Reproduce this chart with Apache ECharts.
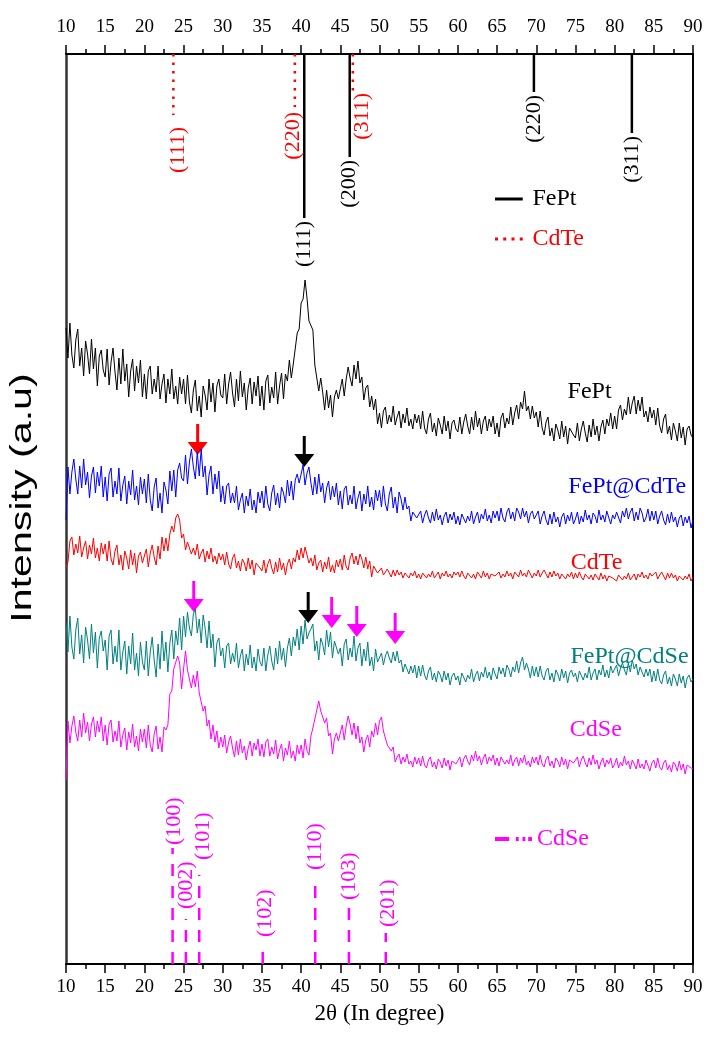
<!DOCTYPE html>
<html>
<head>
<meta charset="UTF-8">
<title>XRD patterns</title>
<script src="https://cdn.jsdelivr.net/npm/echarts@6/dist/echarts.min.js"></script>
<style>
  body { margin: 0; background: #fff; }
  #chart { width: 709px; height: 1041px; }
</style>
</head>
<body>
<div id="chart"></div>
<script>
// 2theta grid of the scans (degrees), 10..90 every 0.25
const start = 10, step = 0.25, count = 321;
const angles = [];
for (let i = 0; i < count; i++) angles.push(start + i * step);

// intensities (a.u., stacked offsets as in the figure), one row = 5 degrees
const fept = [
  636,606,641,609,596,624,635,598,616,588,623,610,590,625,595,616,578,608,614,594,
  587,615,579,602,616,592,574,606,580,615,583,600,567,593,605,573,598,581,604,567,
  590,565,593,598,570,585,572,598,565,580,590,561,585,570,595,565,578,560,587,570,
  585,560,589,562,551,574,584,553,568,547,578,569,554,585,562,581,552,578,585,569,
  566,590,560,580,592,571,557,585,563,593,567,581,554,576,586,560,582,568,588,558,
  578,554,583,589,561,577,566,592,560,578,591,565,590,583,604,586,600,598,631,635,
  661,665,684,666,643,644,634,599,597,573,586,572,554,574,556,569,547,567,574,565,
  565,585,568,585,597,586,578,599,585,603,581,587,564,576,579,557,568,554,565,540,
  551,536,553,557,540,549,542,558,539,547,553,536,550,541,556,538,545,535,550,541,
  549,535,553,536,530,545,551,532,541,528,546,539,530,548,533,543,525,541,544,535,
  532,547,530,542,550,538,530,547,534,553,537,546,530,543,548,533,545,537,548,530,
  541,527,546,551,536,546,540,557,539,551,559,545,562,555,573,553,558,545,558,546,
  552,537,553,536,529,542,547,528,536,523,540,534,525,543,527,538,520,536,538,529,
  526,541,523,535,543,531,522,539,527,545,529,538,523,537,544,530,545,538,551,535,
  548,535,554,559,544,555,549,567,550,561,568,550,564,553,567,547,553,542,557,546,
  554,539,556,538,531,545,550,530,538,524,541,533,523,541,526,537,519,535,538,529,
  526
];
const feptCdTe = [
  444,497,470,492,505,485,470,498,476,505,479,492,466,488,497,471,492,478,498,467,
  487,463,490,496,467,483,470,496,463,479,488,460,483,469,494,464,478,459,487,470,
  485,461,490,464,453,477,486,456,471,451,482,474,460,493,473,494,467,494,501,486,
  483,509,480,502,515,497,485,512,488,515,487,498,469,489,498,470,490,475,493,462,
  478,460,478,481,461,471,461,478,454,464,471,451,468,458,475,454,464,451,472,461,
  473,456,478,460,453,471,479,459,471,456,477,471,461,484,468,483,464,484,490,481,
  480,499,479,491,497,481,469,487,470,490,472,481,461,476,483,464,478,467,481,459,
  473,455,475,478,459,469,460,478,455,466,473,453,470,460,478,457,467,454,474,463,
  474,457,478,460,453,470,477,456,467,451,472,465,454,467,455,458,443,452,454,446,
  444,453,441,449,454,446,441,452,443,455,444,449,439,448,452,441,450,444,452,440,
  448,439,450,452,441,448,443,453,440,447,452,441,450,445,455,443,449,441,453,446,
  453,443,456,446,442,452,456,445,452,443,456,452,445,456,447,453,441,450,453,445,
  444,453,440,448,453,444,439,450,440,452,442,447,437,447,451,440,449,443,452,440,
  445,452,440,448,442,454,444,449,440,451,448,441,454,444,449,442,453,451,440,449,
  445,452,450,441,453,447,456,445,452,456,443,452,444,456,451,442,446,455,443,453,
  444,453,440,448,453,444,439,450,441,452,442,447,437,446,449,438,447,441,448,436,
  444
];
const cdte = [
  396,402,423,427,409,420,411,428,407,416,423,405,419,410,426,406,416,403,421,410,
  420,403,423,405,399,413,419,399,409,394,413,406,395,414,399,411,391,408,412,401,
  399,415,397,411,419,407,399,418,405,427,413,426,413,430,438,432,446,450,444,426,
  430,414,422,423,410,416,409,420,405,411,415,402,413,405,416,402,408,400,411,404,
  410,399,412,400,395,406,410,396,403,393,405,401,393,406,395,404,389,401,403,396,
  393,404,391,400,405,396,390,402,392,406,394,401,389,400,405,395,406,402,414,404,
  416,406,417,416,401,406,398,409,394,401,404,392,402,395,407,392,399,391,404,397,
  405,394,409,397,394,406,411,400,408,399,410,405,396,407,395,403,387,398,399,391,
  390,396,389,392,395,391,387,394,388,394,389,392,386,391,393,386,391,388,393,386,
  390,385,391,393,386,390,387,393,386,389,392,385,391,388,393,387,390,386,392,389,
  392,387,393,388,385,391,393,386,390,385,392,389,386,393,387,391,385,390,392,388,
  389,392,386,390,387,393,388,391,385,392,390,387,394,388,391,387,394,392,386,391,
  388,394,387,391,394,390,386,392,387,393,388,391,385,390,391,385,390,387,392,385,
  391,386,392,387,384,390,392,385,389,384,390,387,384,391,385,389,383,388,390,386,
  388,383,389,391,384,388,385,391,384,387,390,384,390,387,392,386,389,385,391,388,
  386,392,385,389,392,388,384,391,386,391,386,389,383,388,390,384,388,385,390,383,
  387
];
const feptCdSe = [
  341,312,348,317,305,334,346,310,329,301,337,324,305,340,311,332,296,326,333,313,
  324,294,328,334,300,318,302,334,294,312,323,290,318,300,331,294,311,288,322,302,
  294,323,288,312,327,304,287,320,295,333,303,322,292,321,334,305,333,319,346,314,
  348,327,352,336,328,350,355,331,345,321,349,336,316,343,316,330,297,321,326,308,
  316,296,318,321,300,311,302,321,296,308,315,293,310,299,319,296,307,293,315,302,
  298,316,293,309,318,303,294,316,300,323,304,316,297,316,326,308,327,318,335,314,
  338,320,344,325,331,335,340,313,323,304,326,320,309,334,317,332,306,323,324,310,
  316,298,320,325,304,316,307,328,303,316,321,298,315,303,322,298,307,293,315,302,
  301,311,299,308,313,306,301,312,303,313,301,304,292,300,302,290,298,291,299,286,
  298,288,299,289,284,293,297,284,291,282,293,289,282,293,284,291,279,288,291,284,
  288,279,291,293,282,289,285,295,282,289,293,283,292,287,297,286,292,284,296,290,
  285,297,290,296,287,299,295,287,297,292,303,291,301,307,294,301,295,286,298,288,
  297,287,298,288,284,293,296,284,291,282,294,290,283,295,286,293,281,291,294,287,
  291,282,293,295,284,291,286,297,284,291,295,284,294,289,299,287,294,286,298,291,
  290,299,288,296,301,294,289,301,292,304,295,300,289,297,299,287,295,288,295,282,
  293,283,295,284,280,289,293,280,287,278,290,285,278,290,281,288,276,286,289,282,
  285
];
const cdse = [
  184,243,221,238,248,232,223,244,227,251,231,242,223,240,247,227,243,232,247,223,
  239,219,240,244,222,233,223,243,217,229,236,214,232,221,240,217,228,213,235,222,
  235,216,239,219,212,230,238,215,227,212,237,234,239,270,273,295,294,308,301,275,
  295,313,294,295,276,289,277,293,271,272,253,258,238,244,225,239,222,233,216,227,
  217,229,211,222,228,216,207,223,209,225,211,218,204,216,223,208,221,214,225,208,
  220,207,222,225,208,217,210,224,205,214,220,203,216,209,223,206,213,203,219,210,
  219,206,225,213,209,228,236,238,254,263,253,254,241,246,228,231,210,225,231,223,
  223,239,224,238,248,240,229,241,225,238,221,227,212,224,229,217,233,227,241,229,
  243,247,233,235,219,220,213,217,202,207,210,200,207,202,210,200,203,197,207,200,
  206,198,208,199,196,204,207,197,202,195,205,202,196,206,198,204,194,203,205,200,
  198,207,197,205,209,203,199,209,203,213,203,208,199,206,210,200,207,203,209,199,
  206,198,207,209,200,204,200,209,198,204,207,198,206,201,209,199,203,197,207,201,
  207,199,209,200,197,205,208,198,203,196,206,203,197,207,199,205,195,204,206,201,
  199,207,197,204,208,201,197,206,199,209,200,204,195,202,206,197,204,200,206,196,
  200,206,196,202,198,208,199,203,195,204,200,195,205,196,200,195,204,202,193,201,
  204,196,206,197,194,201,204,194,199,192,202,199,193,203,194,200,190,199,201,196,
  195
];

const traceNames = ['FePt', 'FePt@CdTe', 'CdTe', 'FePt@CdSe', 'CdSe'];
const traceColors = ['#000000', '#0000ff', '#ff0000', '#008080', '#ff00ff'];
const traceValues = [fept, feptCdTe, cdte, feptCdSe, cdse];
// where each sample name is written (2theta, intensity)
const nameTagAt = [[76.8, 572], [81.6, 477], [77.7, 401], [81.9, 307], [77.6, 234]];

// reference reflections (sticks)
const yTop = 910;
const feptRefPos = [40.4, 46.2, 69.7, 82.2];
const feptRefEnd = [746, 807, 872, 831];
const feptRefHkl = ['(111)', '(200)', '(220)', '(311)'];
const cdteRefPos = [23.7, 39.2, 46.6];
const cdteRefEnd = [849, 857, 871];
const cdteRefHkl = ['(111)', '(220)', '(311)'];
const cdseRefPos = [23.6, 25.3, 27.0, 35.1, 41.8, 46.1, 50.8];
const cdseRefTop = [116, 45, 89, 12, 87, 57, 31];
const cdseRefHkl = ['(100)', '(002)', '(101)', '(102)', '(110)', '(103)', '(201)'];

// peak arrows: 2theta, tip intensity
const arrowPos = [26.8, 40.4, 26.3, 40.9, 43.9, 47.1, 52.0];
const arrowTip = [509, 497, 352, 341, 336, 327, 320];
const arrowColors = ['#ff0000', '#000000', '#ff00ff', '#000000', '#ff00ff', '#ff00ff', '#ff00ff'];

// label nudges in px [dx, dy]
const feptNudge = [[0, 3], [0, 3], [0, 3], [0, 3]];
const cdteNudge = [[5, 12], [-2, 5], [9, 0]];
const cdseNudge = [[2, 3], [0, 10], [4, 15], [2, 15], [0, 7], [0, 7], [2, 6]];

const serif = '"Liberation Serif", "Times New Roman", serif';

function stickRenderer(color, width, dash, hkl, nudge, upward) {
  return function (params, api) {
    const i = params.dataIndex;
    const x = api.value(0);
    const a = api.coord([x, api.value(1)]);
    const b = api.coord([x, api.value(2)]);
    const n = nudge[i];
    return {
      type: 'group',
      children: [
        { type: 'line', shape: { x1: a[0], y1: a[1], x2: b[0], y2: b[1] },
          style: { stroke: color, lineWidth: width, lineDash: dash } },
        { type: 'text', x: b[0] + n[0], y: upward ? b[1] - n[1] : b[1] + n[1], rotation: Math.PI / 2,
          style: { text: hkl[i], fill: color, font: '22px ' + serif,
                   align: upward ? 'left' : 'right', verticalAlign: 'middle' } }
      ]
    };
  };
}

const series = traceValues.map(function (vals, k) {
  return {
    name: traceNames[k] + ' pattern',
    type: 'line',
    data: angles.map(function (t, i) { return [t, vals[i]]; }),
    showSymbol: false,
    lineStyle: { color: traceColors[k], width: 1 },
    itemStyle: { color: traceColors[k] },
    markPoint: {
      symbol: 'circle', symbolSize: 0,
      data: [{ coord: nameTagAt[k] }],
      label: { show: true, position: 'inside', formatter: traceNames[k],
               color: traceColors[k], fontSize: 24, fontFamily: serif }
    }
  };
});

series.push({
  name: 'FePt ref', type: 'custom', itemStyle: { color: '#000' },
  renderItem: stickRenderer('#000', 2.5, null, feptRefHkl, feptNudge, false),
  data: feptRefPos.map(function (p, i) { return [p, yTop, feptRefEnd[i]]; })
});
series.push({
  name: 'CdTe ref', type: 'custom', itemStyle: { color: '#ff0000' },
  renderItem: stickRenderer('#ff0000', 2.5, [2.5, 6], cdteRefHkl, cdteNudge, false),
  data: cdteRefPos.map(function (p, i) { return [p, yTop, cdteRefEnd[i]]; })
});
series.push({
  name: 'CdSe ref', type: 'custom', itemStyle: { color: '#ff00ff' },
  renderItem: stickRenderer('#ff00ff', 2.5, [12, 10], cdseRefHkl, cdseNudge, true),
  data: cdseRefPos.map(function (p, i) { return [p, 0, cdseRefTop[i]]; })
});
series.push({
  name: 'arrows', type: 'custom',
  renderItem: function (params, api) {
    const i = params.dataIndex;
    const c = api.coord([api.value(0), api.value(1)]);
    const col = arrowColors[i];
    return {
      type: 'group',
      children: [
        { type: 'line', shape: { x1: c[0], y1: c[1] - 31, x2: c[0], y2: c[1] - 10 },
          style: { stroke: col, lineWidth: 3 } },
        { type: 'polygon', shape: { points: [[c[0] - 10, c[1] - 13], [c[0] + 10, c[1] - 13], [c[0], c[1]]] },
          style: { fill: col } }
      ]
    };
  },
  data: arrowPos.map(function (p, i) { return [p, arrowTip[i]]; })
});

function xAxisCfg(pos) {
  return {
    type: 'value', position: pos, min: 10, max: 90, interval: 5,
    axisLine: { show: true, onZero: false, lineStyle: { color: '#000', width: 2 } },
    axisTick: { show: true, inside: false, length: 9, lineStyle: { color: '#000', width: 1.5 } },
    minorTick: { show: true, splitNumber: 2, length: 5, lineStyle: { color: '#000', width: 1.5 } },
    axisLabel: { show: true, color: '#000', fontSize: 19, fontFamily: serif, margin: pos === 'top' ? 17 : 14 },
    splitLine: { show: false }
  };
}

const bottomAxis = xAxisCfg('bottom');
bottomAxis.name = '2\u03b8 (In degree)';
bottomAxis.nameLocation = 'middle';
bottomAxis.nameGap = 38;
bottomAxis.nameTextStyle = { color: '#000', fontSize: 23, fontFamily: serif };

function legendIcon(path) { return 'path://' + path; }

const option = {
  animation: false,
  backgroundColor: '#fff',
  grid: { left: 66, right: 16, top: 54, bottom: 77 },
  xAxis: [bottomAxis, xAxisCfg('top')],
  yAxis: [
    { type: 'value', min: 0, max: yTop, position: 'left',
      axisLine: { show: true, lineStyle: { color: '#333', width: 2.5 } },
      axisTick: { show: false }, axisLabel: { show: false }, splitLine: { show: false } },
    { type: 'value', min: 0, max: yTop, position: 'right',
      axisLine: { show: true, lineStyle: { color: '#000', width: 2 } },
      axisTick: { show: false }, axisLabel: { show: false }, splitLine: { show: false } }
  ],
  // y axis title, drawn tall and narrow like the original
  graphic: [{
    type: 'text', x: 23, y: 498, rotation: Math.PI / 2, scaleX: 1.42,
    style: { text: 'Intensity (a.u)', fill: '#000', align: 'center', verticalAlign: 'middle',
             font: '29px "Liberation Sans", Arial, sans-serif' }
  }],
  legend: [
    { data: [{ name: 'FePt ref', icon: legendIcon('M0,0h37v4h-37z') }],
      left: 495, top: 187, padding: 0, itemWidth: 37, itemHeight: 3, selectedMode: false,
      formatter: function (n) { return n.replace(' ref', ''); },
      textStyle: { color: '#000', fontSize: 24, fontFamily: serif } },
    { data: [{ name: 'CdTe ref', icon: legendIcon('M0,0h4v4h-4zM11,0h4v4h-4zM22,0h4v4h-4zM33,0h4v4h-4z') }],
      left: 495, top: 227, padding: 0, itemWidth: 37, itemHeight: 3, selectedMode: false,
      formatter: function (n) { return n.replace(' ref', ''); },
      textStyle: { color: '#ff0000', fontSize: 24, fontFamily: serif } },
    { data: [{ name: 'CdSe ref', icon: legendIcon('M0,0h15v4h-15zM22,0h3v4h-3zM29,0h3v4h-3zM35,0h4v4h-4z') }],
      left: 495, top: 827, padding: 0, itemWidth: 37, itemHeight: 4, selectedMode: false,
      formatter: function (n) { return n.replace(' ref', ''); },
      textStyle: { color: '#ff00ff', fontSize: 24, fontFamily: serif } }
  ],
  series: series
};

const chart = echarts.init(document.getElementById('chart'));
chart.setOption(option);
</script>
</body>
</html>
